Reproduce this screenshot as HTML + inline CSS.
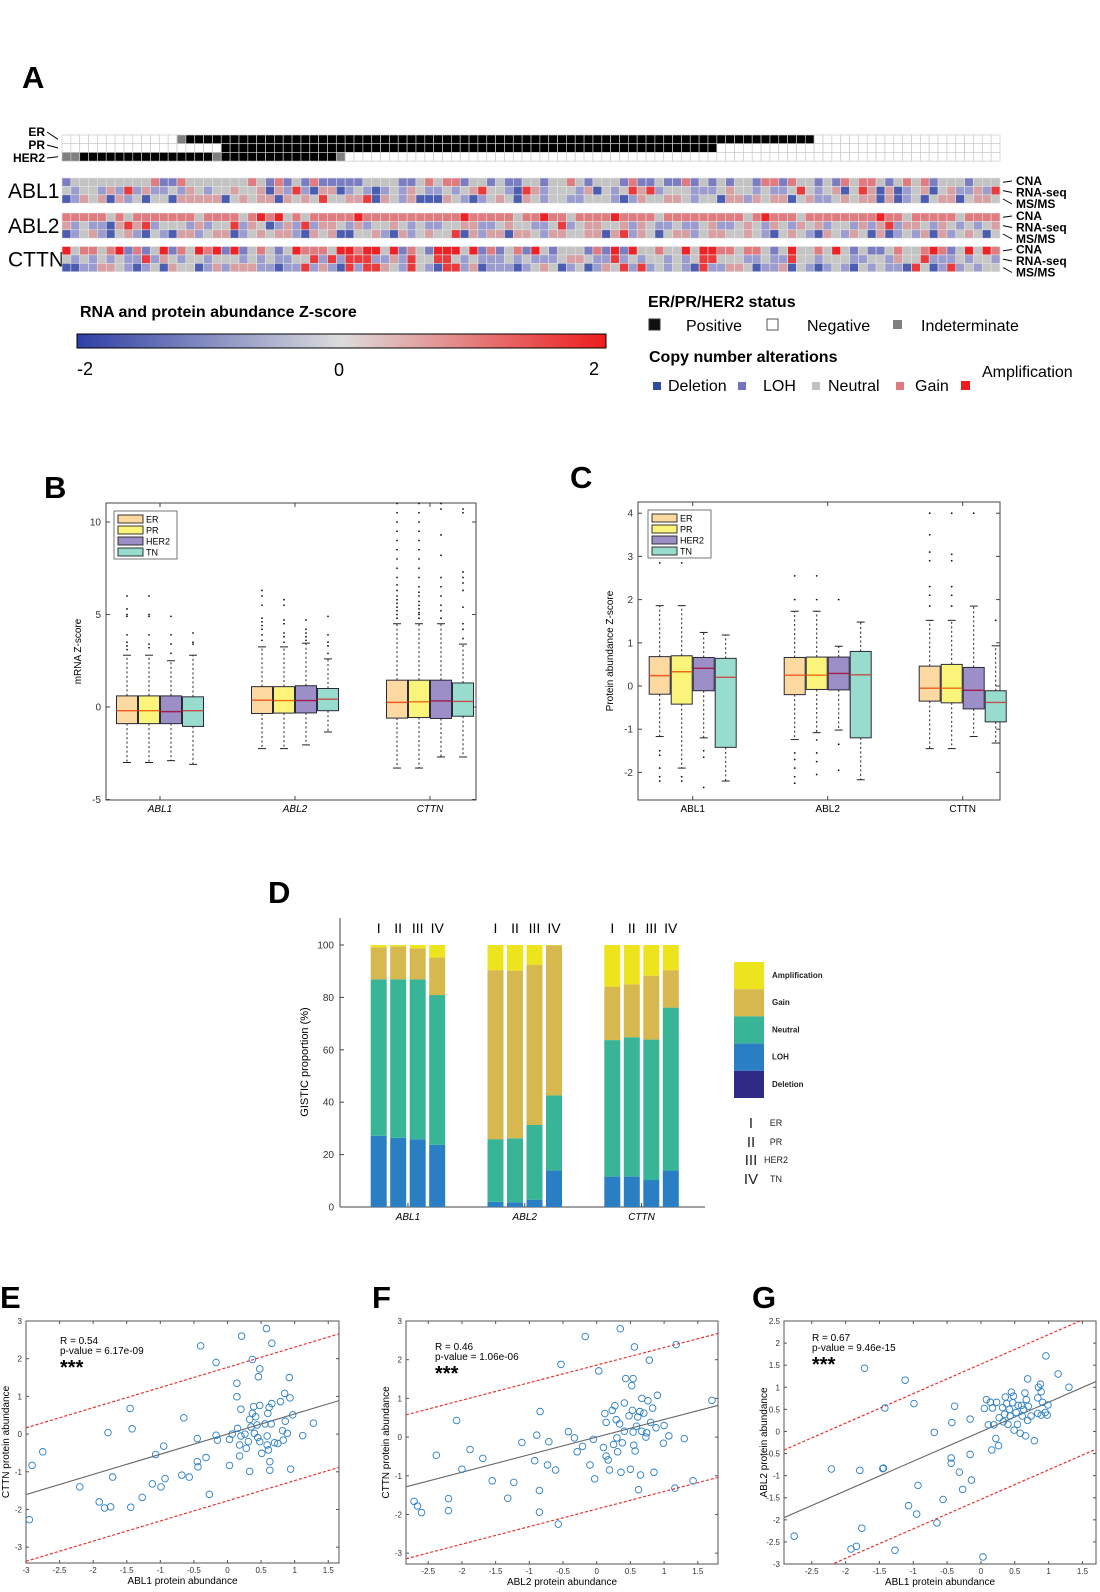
<!DOCTYPE html>
<html><head><meta charset="utf-8">
<style>
html,body{margin:0;padding:0;background:#fff;}
svg{display:block;font-family:"Liberation Sans",Arial,sans-serif;}
</style></head>
<body>
<svg id="fig" width="1100" height="1592" viewBox="0 0 1100 1592" xmlns="http://www.w3.org/2000/svg">
<defs>
<linearGradient id="zgrad" x1="0" x2="1" y1="0" y2="0">
<stop offset="0" stop-color="#2e3fa6"/><stop offset="0.5" stop-color="#dcdcdc"/><stop offset="1" stop-color="#ee1c1c"/>
</linearGradient>
<clipPath id="clipE"><rect x="26" y="1321" width="313" height="242"/></clipPath>
<clipPath id="clipF"><rect x="406" y="1321" width="312" height="243"/></clipPath>
<clipPath id="clipG"><rect x="784" y="1321" width="312" height="243"/></clipPath>
</defs>
<text x="22" y="88" font-size="31" font-weight="bold">A</text>
<text x="44" y="498" font-size="31" font-weight="bold">B</text>
<text x="570" y="488" font-size="31" font-weight="bold">C</text>
<text x="268" y="903" font-size="31" font-weight="bold">D</text>
<text x="0" y="1308" font-size="31" font-weight="bold">E</text>
<text x="372" y="1308" font-size="31" font-weight="bold">F</text>
<text x="752" y="1308" font-size="31" font-weight="bold">G</text>

<text x="80" y="317" font-size="16" font-weight="bold">RNA and protein abundance Z-score</text>
<rect x="77" y="334" width="529" height="14" fill="url(#zgrad)" stroke="#000" stroke-width="1"/>
<text x="77" y="375" font-size="18">-2</text>
<text x="334" y="376" font-size="18">0</text>
<text x="589" y="375" font-size="18">2</text>

<text x="648" y="307" font-size="16" font-weight="bold">ER/PR/HER2 status</text>
<rect x="649" y="319" width="11" height="11" fill="#111" stroke="#333"/>
<text x="686" y="331" font-size="16">Positive</text>
<rect x="767" y="319" width="11" height="11" fill="#fff" stroke="#555"/>
<text x="807" y="331" font-size="16">Negative</text>
<rect x="893" y="320" width="9" height="9" fill="#808080"/>
<text x="921" y="331" font-size="16">Indeterminate</text>
<text x="649" y="362" font-size="16" font-weight="bold">Copy number alterations</text>
<rect x="653" y="382" width="8" height="8" fill="#2e4aa6"/>
<text x="668" y="391" font-size="16">Deletion</text>
<rect x="738" y="382" width="8" height="8" fill="#7375be"/>
<text x="763" y="391" font-size="16">LOH</text>
<rect x="812" y="382" width="8" height="8" fill="#c0c0c0"/>
<text x="828" y="391" font-size="16">Neutral</text>
<rect x="896" y="382" width="8" height="8" fill="#e07a7e"/>
<text x="915" y="391" font-size="16">Gain</text>
<rect x="961" y="381" width="9" height="9" fill="#ee1c1c"/>
<text x="982" y="377" font-size="16">Amplification</text>
</svg>

<script>
const NS = "http://www.w3.org/2000/svg";
const svg = document.getElementById('fig');
function mk(tag, attrs, parent){
  const e = document.createElementNS(NS, tag);
  for (const k in attrs) e.setAttribute(k, attrs[k]);
  (parent || svg).appendChild(e);
  return e;
}
function tx(x, y, s, size, opts){
  const o = Object.assign({x:x, y:y, 'font-size':size}, opts||{});
  const e = mk('text', o);
  e.textContent = s;
  return e;
}

/* ================= PANEL A ================= */
const statusLabels = ["ER","PR","HER2"];
const statusER   = "N".repeat(13)+"I"+"P".repeat(71)+"N".repeat(21);
const statusPR   = "N".repeat(18)+"P".repeat(56)+"N".repeat(32);
const statusHER2 = "II"+"P".repeat(15)+"I"+"P".repeat(13)+"I"+"N".repeat(74);
const statusRows = [statusER, statusPR, statusHER2];

const geneLabels = ["ABL1","ABL2","CTTN"];
const dataLabels = ["CNA","RNA-seq","MS/MS"];
const abl1CNA = "1222222222311322222223213121311111222211232331221211221223212221311211312121221331322121323321232312221";
const abl1RNA = "2122131413112132122322303141033012101213211212342210431222130212434122211123221211242123024303012302311314";
const abl1MS  = "0132303120220333330232330323242233403213000321012320321221122210132233212203313233023112323303012023302332";
const abl2CNA = "3333323233333332333323434232333334333333333334333332334332333343333233333333323433323333333343323333323333";
const abl2RNA = "3121103434122213122413201314133213122321211223311232211241233223132112112311232132132312213134133213212123";
const abl2MS  = "0123102310210331233012323310323002231031232240313303321332233034132023312332232102321032132030121303123202";
const cttnCNA = "4233234131241324341412321243332443442413214442413123142122213141422322424433233212422324212112322343124243";
const cttnRNA = "2121212114132122122212121122414144411314224421211121211123321141212212124422211211422122211221322411121221";
const cttnMS  = "0011332101203220131333110114131041443214210441301110123201201324141212104113320113021012102121104201412122";
const geneRows = [[abl1CNA,abl1RNA,abl1MS],[abl2CNA,abl2RNA,abl2MS],[cttnCNA,cttnRNA,cttnMS]];

const nCols = 106, hx0 = 62, hx1 = 1000, cw = (hx1-hx0)/nCols;
const statusY0 = 135, statusH = 8.7;
const geneY0 = [178, 213, 246.5], cellH = 8.4;
const statusColor = {P:"#000", N:"#fff", I:"#7f7f7f"};
const lvlColor = ["#3447a6","#7b7dc2","#c3c3c3","#e07b80","#ee2225"];
const lvlColorSoft = ["#4a5db0","#9b9dd0","#c6c6c6","#d9a0a3","#ea3a3c"];
const statusLabelY = [136, 149, 162];
const rowLabelDy = [3, 14.5, 26];

function colX(i){ return hx0 + i*cw; }

statusRows.forEach((row, r) => {
  const lab = tx(45, statusLabelY[r], statusLabels[r], 12, {'font-weight':'bold','text-anchor':'end'});
  
  
  const ln = mk('line', {x1:47, x2:58, y1:statusLabelY[r]-4, y2:statusY0 + r*statusH + 4.3, stroke:"#000", 'stroke-width':1});
  
  
  for (let i=0;i<nCols;i++){
    const c = mk('rect', {x:colX(i), y:statusY0 + r*statusH, width:cw, height:statusH, fill:statusColor[row[i]||"N"], stroke:"#c8c8c8", 'stroke-width':0.7});
    
    
  }
});

geneRows.forEach((rows, g) => {
  const gl = tx(8, geneY0[g] + 20, geneLabels[g], 21);
  
  
  rows.forEach((row, r) => {
    for (let i=0;i<nCols;i++){
      const v = +(row[i] || 2);
      const c = mk('rect', {x:colX(i), y:geneY0[g] + r*cellH, width:cw, height:cellH, fill: r===0 ? lvlColor[v] : lvlColorSoft[v], stroke:"#e4e4e4", 'stroke-width':0.6});
      
      
    }
    const yy = geneY0[g] + r*cellH + 4.2;
    const ly = geneY0[g] + rowLabelDy[r];
    const rl = tx(1016, ly + 4, dataLabels[r], 12, {'font-weight':'bold'});
    
    
    const ln = mk('line', {x1:1003, x2:1012, y1:yy, y2:ly, stroke:"#000", 'stroke-width':1});
    
    
  });
});

/* ================= PANELS B & C ================= */
const boxGenes = ["ABL1","ABL2","CTTN"];
const boxGroups = ["ER","PR","HER2","TN"];
const boxFill = ["#fbd9a0","#faf57a","#9c8fc8","#98dccd"];
const medColor = ["#f05a1e","#f06a10","#a01e46","#c0504a"];
const boxOffsets = [-33,-11,11,33];
const mrnaStats = [
  [[-3.0,-0.9,-0.2,0.6,2.8],[-3.0,-0.9,-0.2,0.6,2.8],[-2.9,-0.9,-0.25,0.6,2.5],[-3.1,-1.05,-0.2,0.55,2.8]],
  [[-2.25,-0.35,0.37,1.1,3.25],[-2.25,-0.33,0.35,1.1,3.25],[-2.05,-0.32,0.35,1.15,3.45],[-1.35,-0.2,0.42,1.0,2.6]],
  [[-3.3,-0.6,0.25,1.45,4.5],[-3.3,-0.57,0.28,1.45,4.5],[-2.7,-0.62,0.33,1.45,4.5],[-2.7,-0.5,0.3,1.3,3.4]]
];
const mrnaOutliers = [
  [[3.1,3.3,3.5,3.9,4.9,5.0,5.3,6.0],[3.2,3.4,3.9,4.9,5.0,6.0],[2.9,3.4,3.9,4.9],[3.4,3.5,4.0]],
  [[3.6,3.9,4.2,4.4,4.6,4.8,5.5,6.0,6.3],[3.5,3.8,4.0,4.5,4.7,5.5,5.8],[3.6,3.8,4.0,4.2,4.7],[2.9,3.3,3.5,3.9,4.9]],
  [[4.8,5.0,5.2,5.4,5.6,5.8,6.0,6.3,6.6,7.0,7.5,8.0,8.5,9.0,9.5,10.0,10.5,11.0],
   [4.8,5.0,5.1,5.3,5.5,5.7,6.0,6.2,6.5,7.0,7.5,8.0,8.5,9.0,9.5,10.0,10.5,11.0],
   [4.8,5.2,5.5,6.0,6.5,7.0,8.2,9.3,10.7,11.0],[3.7,4.2,4.5,5.4,6.3,6.7,7.0,7.3,10.5,10.7]]
];
const mrnaTicks = [-5,0,5,10];
const protStats = [
  [[-1.17,-0.19,0.24,0.68,1.86],[-1.9,-0.42,0.33,0.7,1.86],[-1.2,-0.11,0.41,0.66,1.24],[-2.2,-1.42,0.2,0.64,1.18]],
  [[-1.24,-0.2,0.25,0.66,1.73],[-1.08,-0.08,0.25,0.67,1.73],[-1.02,-0.09,0.29,0.67,0.92],[-2.17,-1.2,0.26,0.8,1.48]],
  [[-1.45,-0.35,-0.05,0.46,1.52],[-1.45,-0.39,-0.05,0.5,1.52],[-1.17,-0.53,-0.1,0.43,1.85],[-1.32,-0.83,-0.38,-0.11,0.93]]
];
const protOutliers = [
  [[2.85,-1.5,-1.6,-1.9,-2.1,-2.2],[2.85,-2.1,-2.2],[-1.5,-1.65,-2.35],[]],
  [[2.55,2.0,-1.55,-1.7,-1.9,-2.1,-2.25],[2.55,2.0,-1.25,-1.55,-1.75,-2.05],[2.0,-1.35,-1.95],[]],
  [[1.85,2.1,2.3,2.9,3.1,3.5,4.0],[1.85,2.1,2.3,2.9,3.05,4.0],[4.0],[1.52]]
];
const protTicks = [-2,-1,0,1,2,3,4];

function boxPanel(cfg){
  const {left,right,top,bottom,y,x0,dx,stats,outl,ticks,ylabel,italic,legendX,legendY,prefix} = cfg;
  const frame = mk('rect',{x:left,y:top,width:right-left,height:bottom-top,fill:"none",stroke:"#444",'stroke-width':1});
  
  
  ticks.forEach(t => {
    const yy = y(t);
    const tk = mk('line',{x1:left,x2:left+4,y1:yy,y2:yy,stroke:"#444"});
    
    
    const tk2 = mk('line',{x1:right,x2:right-4,y1:yy,y2:yy,stroke:"#444"});
    
    
    const tl = tx(left-5, yy+3.5, String(t), 10, {'text-anchor':'end',fill:"#333"});
    
    
  });
  const yl = tx(0,0,ylabel,10,{'text-anchor':'middle',transform:`translate(${left-25},${(top+bottom)/2}) rotate(-90)`});
  
  
  boxGenes.forEach((gname,g) => {
    const cx = x0 + dx*g;
    const xt = mk('line',{x1:cx,x2:cx,y1:bottom,y2:bottom-4,stroke:"#444"});
    
    
    const xt2 = mk('line',{x1:cx,x2:cx,y1:top,y2:top+4,stroke:"#444"});
    
    
    const xl = tx(cx, bottom+12, gname, 10, {'text-anchor':'middle','font-style':italic?'italic':'normal'});
    
    
    boxGroups.forEach((grp,i) => {
      const s = stats[g][i];
      const bx = cx + boxOffsets[i];
      const w1 = mk('line',{x1:bx,x2:bx,y1:y(s[3]),y2:y(s[4]),stroke:"#222",'stroke-dasharray':"2,2.5",'stroke-width':1});
      
      
      const w2 = mk('line',{x1:bx,x2:bx,y1:y(s[1]),y2:y(s[0]),stroke:"#222",'stroke-dasharray':"2,2.5",'stroke-width':1});
      
      
      [s[0],s[4]].forEach(v => {
        const cap = mk('line',{x1:bx-4,x2:bx+4,y1:y(v),y2:y(v),stroke:"#222",'stroke-width':1});
        
        
      });
      const b = mk('rect',{x:bx-10.5,y:y(s[3]),width:21,height:y(s[1])-y(s[3]),fill:boxFill[i],stroke:"#2a2a3a",'stroke-width':1});
      
      
      const m = mk('line',{x1:bx-10.5,x2:bx+10.5,y1:y(s[2]),y2:y(s[2]),stroke:medColor[i],'stroke-width':1.4});
      
      
      outl[g][i].forEach(v => {
        const o = mk('circle',{cx:bx,cy:y(v),r:0.9,fill:"#111"});
        
        
      });
    });
  });
  const lg = mk('rect',{x:legendX,y:legendY,width:63,height:48,fill:"#fff",stroke:"#555",'stroke-width':0.8});
  
  
  boxGroups.forEach((grp,i) => {
    const sw = mk('rect',{x:legendX+4,y:legendY+4+i*11,width:25,height:8,fill:boxFill[i],stroke:"#222",'stroke-width':0.9});
    
    
    const lt = tx(legendX+32, legendY+11.5+i*11, grp, 9);
    
    
  });
}
boxPanel({prefix:'mrna',left:106,right:476,top:503,bottom:800,y:v=>707-18.5*v,x0:160,dx:135,stats:mrnaStats,outl:mrnaOutliers,ticks:mrnaTicks,ylabel:"mRNA Z-score",italic:true,legendX:114,legendY:511});
boxPanel({prefix:'protein',left:638,right:1000,top:502,bottom:800,y:v=>686-43.2*v,x0:692.7,dx:135,stats:protStats,outl:protOutliers,ticks:protTicks,ylabel:"Protein abundance Z-score",italic:false,legendX:648,legendY:510});

/* ================= PANEL D ================= */
const dGenes = ["ABL1","ABL2","CTTN"];
const dSubtypes = ["I","II","III","IV"];
const dCategories = ["Deletion","LOH","Neutral","Gain","Amplification"];
const dColors = ["#2e2a86","#2a7fc4","#38b597","#d6b84e","#ede41e"];
const deletionPct = [[0,0,0,0],[0,0,0,0],[0,0,0,0]];
const lohPct      = [[27.2,26.4,25.8,23.7],[2.0,1.8,2.8,13.9],[11.6,11.6,10.3,13.9]];
const neutralPct  = [[59.7,60.5,61.1,57.2],[23.9,24.4,28.5,28.7],[52.1,53.2,53.6,62.2]];
const gainPct     = [[12.2,12.5,11.8,14.3],[64.5,64.0,61.2,57.2],[20.4,20.2,24.4,14.3]];
const ampPct      = [[0.9,0.6,1.3,4.8],[9.6,9.8,7.5,0.2],[15.9,15.0,11.7,9.6]];
const dSeries = [deletionPct, lohPct, neutralPct, gainPct, ampPct];
const dTicks = [0,20,40,60,80,100];
const yD = p => 1207 - 2.62*p;
const xD = (g,s) => 370.7 + 116.8*g + 19.5*s;
{
  const ax = mk('line',{x1:340,x2:340,y1:918,y2:1207,stroke:"#444"});
  
  
  const bx = mk('line',{x1:340,x2:705,y1:1207,y2:1207,stroke:"#444"});
  
  
  dTicks.forEach(t => {
    const tk = mk('line',{x1:340,x2:344,y1:yD(t),y2:yD(t),stroke:"#444"});
    
    
    const tl = tx(334, yD(t)+3.5, String(t), 10, {'text-anchor':'end',fill:"#333"});
    
    
  });
  const yl = tx(0,0,"GISTIC proportion (%)",11,{'text-anchor':'middle',transform:"translate(308,1062) rotate(-90)"});
  
  
  dGenes.forEach((gn,g) => {
    const cx = xD(g,1.5)+8;
    const xt = mk('line',{x1:cx,x2:cx,y1:1207,y2:1203,stroke:"#444"});
    
    
    const xl = tx(cx, 1220, gn, 10, {'text-anchor':'middle','font-style':'italic'});
    
    
    dSubtypes.forEach((st,s) => {
      const rl = tx(xD(g,s)+8, 933, st, 14, {'text-anchor':'middle'});
      
      
      let cum = 0;
      dSeries.forEach((ser,k) => {
        const v = ser[g][s];
        if (v > 0){
          const r = mk('rect',{x:xD(g,s),y:yD(cum+v),width:16,height:yD(cum)-yD(cum+v),fill:dColors[k]});
          
          
        }
        cum += v;
      });
    });
  });
  dCategories.slice().reverse().forEach((c,i) => {
    const k = dCategories.length-1-i;
    const sw = mk('rect',{x:734,y:962+i*27.2,width:30,height:27.2,fill:dColors[k]});
    
    
    const lt = tx(772, 962+i*27.2+16, c, 8, {'font-weight':'bold',fill:"#222"});
    
    
  });
  const subNames = ["ER","PR","HER2","TN"];
  const subY = [1128,1147,1165,1184];
  dSubtypes.forEach((st,i) => {
    const a = tx(751, subY[i], st, 15, {'text-anchor':'middle',fill:"#222"});
    
    
    const b = tx(776, subY[i]-2, subNames[i], 9, {'text-anchor':'middle',fill:"#222"});
    
    
  });
}

/* ================= PANELS E, F, G ================= */
const eX = [-2.95,-2.91,-2.75,-2.2,-1.91,-1.83,-1.74,-1.78,-1.71,-1.45,-1.44,-1.42,-1.27,-1.12,-1.07,-0.99,-0.95,-0.93,-0.68,-0.65,-0.57,-0.45,-0.45,-0.44,-0.4,-0.32,-0.27,-0.17,-0.17,-0.15,0.03,0.03,0.07,0.14,0.14,0.15,0.18,0.18,0.2,0.21,0.2,0.26,0.28,0.31,0.33,0.33,0.35,0.37,0.37,0.39,0.4,0.42,0.44,0.45,0.46,0.48,0.48,0.48,0.51,0.56,0.58,0.59,0.59,0.6,0.61,0.62,0.63,0.63,0.65,0.66,0.66,0.7,0.75,0.79,0.82,0.83,0.85,0.86,0.89,0.92,0.93,0.94,0.97,1.12,1.28];
const eY = [-2.27,-0.83,-0.47,-1.4,-1.8,-1.96,-1.93,0.04,-1.14,0.68,-1.94,0.14,-1.68,-1.32,-0.54,-1.4,-0.32,-1.18,-1.09,0.43,-1.14,-0.12,-0.73,-0.87,2.34,-0.62,-1.6,1.9,-0.03,-0.16,-0.83,-0.14,0,0.99,1.35,0.15,-0.29,-0.58,0.66,2.6,-0.05,0,-0.38,-0.2,-0.99,0.39,0.19,1.98,0.55,0.73,0.02,0.46,0.24,-0.09,1.52,1.73,0.76,-0.2,-0.51,0.27,2.8,-0.05,-0.29,0.55,-0.42,0.71,-0.96,-0.73,0.27,2.41,0.81,-0.23,-0.25,0.86,0.09,-0.16,1.08,0.34,0.02,1.5,0.96,-0.93,0.51,-0.04,0.29];
const fX = [-2.71,-2.66,-2.6,-2.38,-2.2,-2.2,-2.08,-2.0,-1.88,-1.69,-1.55,-1.23,-1.11,-1.32,-0.92,-0.89,-0.85,-0.85,-0.84,-0.73,-0.71,-0.61,-0.57,-0.53,-0.42,-0.33,-0.29,-0.21,-0.17,-0.1,-0.05,-0.03,0.03,0.1,0.12,0.14,0.14,0.17,0.19,0.23,0.25,0.27,0.29,0.3,0.31,0.34,0.35,0.36,0.38,0.41,0.41,0.43,0.48,0.5,0.52,0.53,0.54,0.54,0.55,0.56,0.57,0.59,0.61,0.62,0.64,0.65,0.67,0.67,0.7,0.73,0.74,0.76,0.78,0.8,0.83,0.85,0.88,0.9,0.99,1.0,1.07,1.16,1.18,1.3,1.43,1.71];
const fY = [-1.66,-1.78,-1.95,-0.47,-1.59,-1.9,0.43,-0.83,-0.32,-0.55,-1.13,-1.17,-0.14,-1.58,-0.61,0.05,-1.38,-1.94,0.66,-0.72,-0.12,-0.85,-2.25,1.88,0.14,-0.02,-0.38,-0.24,2.6,-0.72,-0.06,-1.08,1.71,-0.27,0.61,0.38,-0.49,-0.59,-0.85,0.69,-0.19,0.81,0.45,-0.02,-0.38,0.34,2.8,-0.91,-0.15,0.88,0.15,1.51,0.55,-0.83,1.33,0.69,1.51,0.13,-0.21,2.33,-0.36,0.28,0.52,-1.36,0.66,-0.98,0.15,1.0,0.62,0,0.11,0.94,1.99,0.38,0.75,-0.91,0.24,1.08,-0.16,0.3,0.03,-1.32,2.39,-0.04,-1.13,0.95];
const gX = [-2.76,-2.21,-1.92,-1.84,-1.79,-1.76,-1.72,-1.45,-1.44,-1.42,-1.27,-1.12,-1.07,-0.99,-0.95,-0.93,-0.69,-0.65,-0.56,-0.44,-0.44,-0.43,-0.39,-0.32,-0.27,-0.16,-0.16,-0.14,0.03,0.05,0.08,0.11,0.14,0.16,0.17,0.19,0.22,0.23,0.26,0.27,0.32,0.33,0.35,0.36,0.38,0.4,0.42,0.43,0.45,0.47,0.48,0.49,0.52,0.54,0.55,0.58,0.6,0.61,0.63,0.65,0.66,0.67,0.69,0.69,0.7,0.74,0.79,0.84,0.84,0.85,0.88,0.89,0.89,0.91,0.95,0.96,0.98,0.99,1.14,1.3];
const gY = [-2.37,-0.85,-2.66,-2.6,-0.88,-2.19,1.43,-0.84,-0.83,0.53,-2.69,1.16,-1.68,0.63,-1.87,-1.22,-0.02,-2.07,-1.54,-0.6,-0.72,0.2,0.57,-0.92,-1.31,0.28,-0.52,-1.1,-2.84,0.52,0.72,0.15,0.66,-0.42,0.53,0.15,-0.16,0.66,-0.32,0.31,0.54,0.22,0.39,0.78,0.63,0.16,0.5,0.35,0.89,0.65,0.8,0.03,0.43,0.16,0.59,-0.04,0.59,0.35,0.5,0.87,-0.1,0.72,0.25,1.19,0.57,0.35,-0.21,0.76,0.41,1.0,1.07,0.37,0.9,0.66,0.43,1.71,0.37,0.6,1.3,1.0];
const fitE = [0.535, 0.0, 1.77];
const fitF = [0.454, 0.0, 1.86];
const fitG = [0.668, -0.006, 1.53];
const statsE = ["R = 0.54","p-value = 6.17e-09"];
const statsF = ["R = 0.46","p-value = 1.06e-06"];
const statsG = ["R = 0.67","p-value = 9.46e-15"];
const ticksE_x = [-3,-2.5,-2,-1.5,-1,-0.5,0,0.5,1,1.5];
const ticksE_y = [-3,-2,-1,0,1,2,3];
const ticksF_x = [-2.5,-2,-1.5,-1,-0.5,0,0.5,1,1.5];
const ticksF_y = [-3,-2,-1,0,1,2,3];
const ticksG_x = [-2.5,-2,-1.5,-1,-0.5,0,0.5,1,1.5];
const ticksG_y = [-3,-2.5,-2,-1.5,-1,-0.5,0,0.5,1,1.5,2,2.5];

function scatter(c){
  const sx = v => c.left + (v - c.xmin)/(c.xmax - c.xmin)*c.w;
  const sy = v => c.top + (c.ymax - v)/(c.ymax - c.ymin)*c.h;
  const fr = mk('rect',{x:c.left,y:c.top,width:c.w,height:c.h,fill:"none",stroke:"#555",'stroke-width':1});
  
  
  c.tx.forEach(t => {
    const a = mk('line',{x1:sx(t),x2:sx(t),y1:c.top+c.h,y2:c.top+c.h-3,stroke:"#555"});
    
    
    const a2 = mk('line',{x1:sx(t),x2:sx(t),y1:c.top,y2:c.top+3,stroke:"#555"});
    
    
    const l = tx(sx(t), c.top+c.h+10, String(t), 8, {'text-anchor':'middle',fill:"#333"});
    
    
  });
  c.ty.forEach(t => {
    const a = mk('line',{x1:c.left,x2:c.left+3,y1:sy(t),y2:sy(t),stroke:"#555"});
    
    
    const a2 = mk('line',{x1:c.left+c.w,x2:c.left+c.w-3,y1:sy(t),y2:sy(t),stroke:"#555"});
    
    
    const l = tx(c.left-4, sy(t)+3, String(t), 8, {'text-anchor':'end',fill:"#333"});
    
    
  });
  const xl = tx(c.left + c.w/2, c.top+c.h+21, c.xlabel, 10, {'text-anchor':'middle'});
  
  
  const yl = tx(0,0,c.ylabel,10,{'text-anchor':'middle',transform:`translate(${c.left-17},${c.top+c.h/2}) rotate(-90)`});
  
  
  const g = mk('g',{'clip-path':`url(#${c.clip})`});
  
  
  const [m,b,band] = c.fit;
  const fy = (x,off) => m*x + b + off;
  [[ -band,'lower-band'],[band,'upper-band']].forEach(([off,nm]) => {
    const l = mk('line',{x1:sx(c.xmin),y1:sy(fy(c.xmin,off)),x2:sx(c.xmax),y2:sy(fy(c.xmax,off)),stroke:"#e8322e",'stroke-width':1.2,'stroke-dasharray':"3,2"}, g);
    
    
  });
  const fl = mk('line',{x1:sx(c.xmin),y1:sy(fy(c.xmin,0)),x2:sx(c.xmax),y2:sy(fy(c.xmax,0)),stroke:"#666",'stroke-width':1.1}, g);
  
  
  c.xs.forEach((x,i) => {
    const pt = mk('circle',{cx:sx(x),cy:sy(c.ys[i]),r:3.3,fill:"none",stroke:"#2a7fc4",'stroke-width':0.9}, g);
    
    
  });
  const r = tx(c.textX, c.textY, c.stats[0], 10);
  
  
  const pv = tx(c.textX, c.textY+10, c.stats[1], 10);
  
  
  const st = tx(c.textX, c.textY+30, "***", 20, {'font-weight':'bold'});
  
  
}
scatter({p:'scatter-e',left:26,top:1321,w:313,h:242,xmin:-3,xmax:1.66,ymin:-3.42,ymax:3,xs:eX,ys:eY,fit:fitE,stats:statsE,tx:ticksE_x,ty:ticksE_y,xlabel:"ABL1 protein abundance",ylabel:"CTTN protein abundance",clip:'clipE',textX:60,textY:1344});
scatter({p:'scatter-f',left:406,top:1321,w:312,h:243,xmin:-2.83,xmax:1.80,ymin:-3.28,ymax:3,xs:fX,ys:fY,fit:fitF,stats:statsF,tx:ticksF_x,ty:ticksF_y,xlabel:"ABL2 protein abundance",ylabel:"CTTN protein abundance",clip:'clipF',textX:435,textY:1350});
scatter({p:'scatter-g',left:784,top:1321,w:312,h:243,xmin:-2.91,xmax:1.70,ymin:-3,ymax:2.5,xs:gX,ys:gY,fit:fitG,stats:statsG,tx:ticksG_x,ty:ticksG_y,xlabel:"ABL1 protein abundance",ylabel:"ABL2 protein abundance",clip:'clipG',textX:812,textY:1341});
</script>
</body></html>
